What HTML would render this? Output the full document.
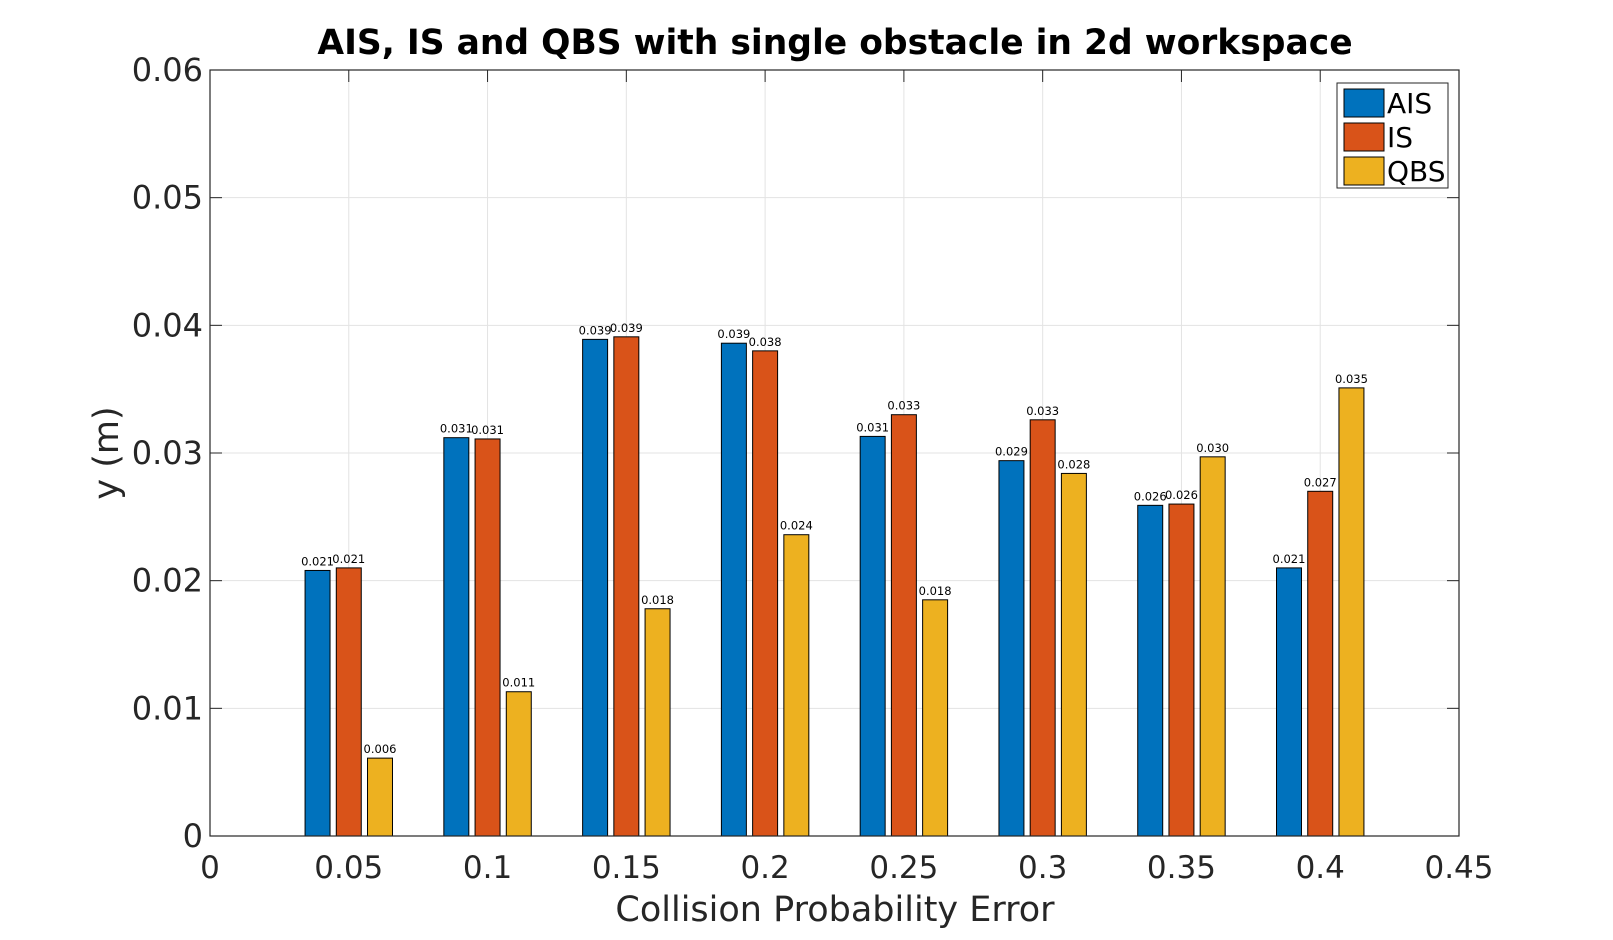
<!DOCTYPE html>
<html><head><meta charset="utf-8"><style>
body{margin:0;background:#fff;}
svg{display:block;font-family:"DejaVu Sans","Liberation Sans",sans-serif;}
</style></head><body>
<svg id="chart" width="1613" height="940"></svg>
<script>
const categories=[0.05,0.1,0.15,0.2,0.25,0.3,0.35,0.4];
const aisValues=[0.0208,0.0312,0.0389,0.0386,0.0313,0.0294,0.0259,0.0210];
const isValues=[0.0210,0.0311,0.0391,0.0380,0.0330,0.0326,0.0260,0.0270];
const qbsValues=[0.0061,0.0113,0.0178,0.0236,0.0185,0.0284,0.0297,0.0351];
const aisLabels=["0.021","0.031","0.039","0.039","0.031","0.029","0.026","0.021"];
const isLabels=["0.021","0.031","0.039","0.038","0.033","0.033","0.026","0.027"];
const qbsLabels=["0.006","0.011","0.018","0.024","0.018","0.028","0.030","0.035"];
const xTicks=[0,0.05,0.1,0.15,0.2,0.25,0.3,0.35,0.4,0.45];
const xTickLabels=["0","0.05","0.1","0.15","0.2","0.25","0.3","0.35","0.4","0.45"];
const yTicks=[0,0.01,0.02,0.03,0.04,0.05,0.06];
const yTickLabels=["0","0.01","0.02","0.03","0.04","0.05","0.06"];

const L=210,R=1459,T=70,B=836;
const xs=v=>L+(v-0)/(0.45)*(R-L);
const ys=v=>B-(v/0.06)*(B-T);
const svg=document.getElementById('chart');
const NS='http://www.w3.org/2000/svg';
function mk(tag,attrs,parent){const e=document.createElementNS(NS,tag);for(const k in attrs)e.setAttribute(k,attrs[k]);(parent||svg).appendChild(e);return e;}

const bg=mk('rect',{x:L,y:T,width:R-L,height:B-T,fill:'#fff'});



xTicks.forEach((t,i)=>{
  const x=xs(t);
  const g=mk('line',{x1:x,x2:x,y1:T,y2:B,stroke:'#e3e3e3','stroke-width':1});
  
  
  mk('line',{x1:x,x2:x,y1:B,y2:B-12,stroke:'#262626','stroke-width':1});
  mk('line',{x1:x,x2:x,y1:T,y2:T+12,stroke:'#262626','stroke-width':1});
  const tx=mk('text',{x:x,y:878,'text-anchor':'middle','font-size':31,fill:'#262626'});
  tx.textContent=xTickLabels[i];
  
  
});
yTicks.forEach((t,i)=>{
  const y=ys(t);
  const g=mk('line',{x1:L,x2:R,y1:y,y2:y,stroke:'#e3e3e3','stroke-width':1});
  
  
  mk('line',{x1:L,x2:L+12,y1:y,y2:y,stroke:'#262626','stroke-width':1});
  mk('line',{x1:R,x2:R-12,y1:y,y2:y,stroke:'#262626','stroke-width':1});
  const tx=mk('text',{x:203,y:y+11,'text-anchor':'end','font-size':32,fill:'#262626'});
  tx.textContent=yTickLabels[i];
  
  
});

const series=[[aisValues,aisLabels,'#0072bd','ais'],[isValues,isLabels,'#d95319','is'],[qbsValues,qbsLabels,'#edb120','qbs']];
const step=0.05*0.225, bw=0.05*0.18;
series.forEach((s,si)=>{
  categories.forEach((c,i)=>{
    const cx=c+(si-1)*step;
    const x0=xs(cx-bw/2),x1=xs(cx+bw/2),y=ys(s[0][i]);
    const r=mk('rect',{x:x0,y:y,width:x1-x0,height:B-y,fill:s[2],stroke:'#000','stroke-width':1});
    
    
    const t=mk('text',{x:xs(cx),y:y-5,'text-anchor':'middle','font-size':11.5,fill:'#000'});
    t.textContent=s[1][i];
    
    
  });
});

const frame=mk('rect',{x:L,y:T,width:R-L,height:B-T,fill:'none',stroke:'#262626','stroke-width':1.2});



const title=mk('text',{x:835,y:54,'text-anchor':'middle','font-size':34.5,'font-weight':'bold',fill:'#000'});
title.textContent='AIS, IS and QBS with single obstacle in 2d workspace';


const xl=mk('text',{x:835,y:921,'text-anchor':'middle','font-size':35,fill:'#262626'});
xl.textContent='Collision Probability Error';


const yl=mk('text',{x:118,y:453,'text-anchor':'middle','font-size':35,fill:'#262626',transform:'rotate(-90 118 453)'});
yl.textContent='y (m)';



const lg=mk('g',{});


mk('rect',{x:1337,y:83,width:111,height:105,fill:'#fff',stroke:'#262626','stroke-width':1},lg);
['AIS','IS','QBS'].forEach((n,i)=>{
  const y=89+i*34;
  const sw=mk('rect',{x:1344,y:y,width:40,height:28,fill:series[i][2],stroke:'#000','stroke-width':1},lg);
  
  
  const t=mk('text',{x:1387,y:y+24,'font-size':28,fill:'#000'},lg);
  t.textContent=n;
  
  
});
</script>
</body></html>
